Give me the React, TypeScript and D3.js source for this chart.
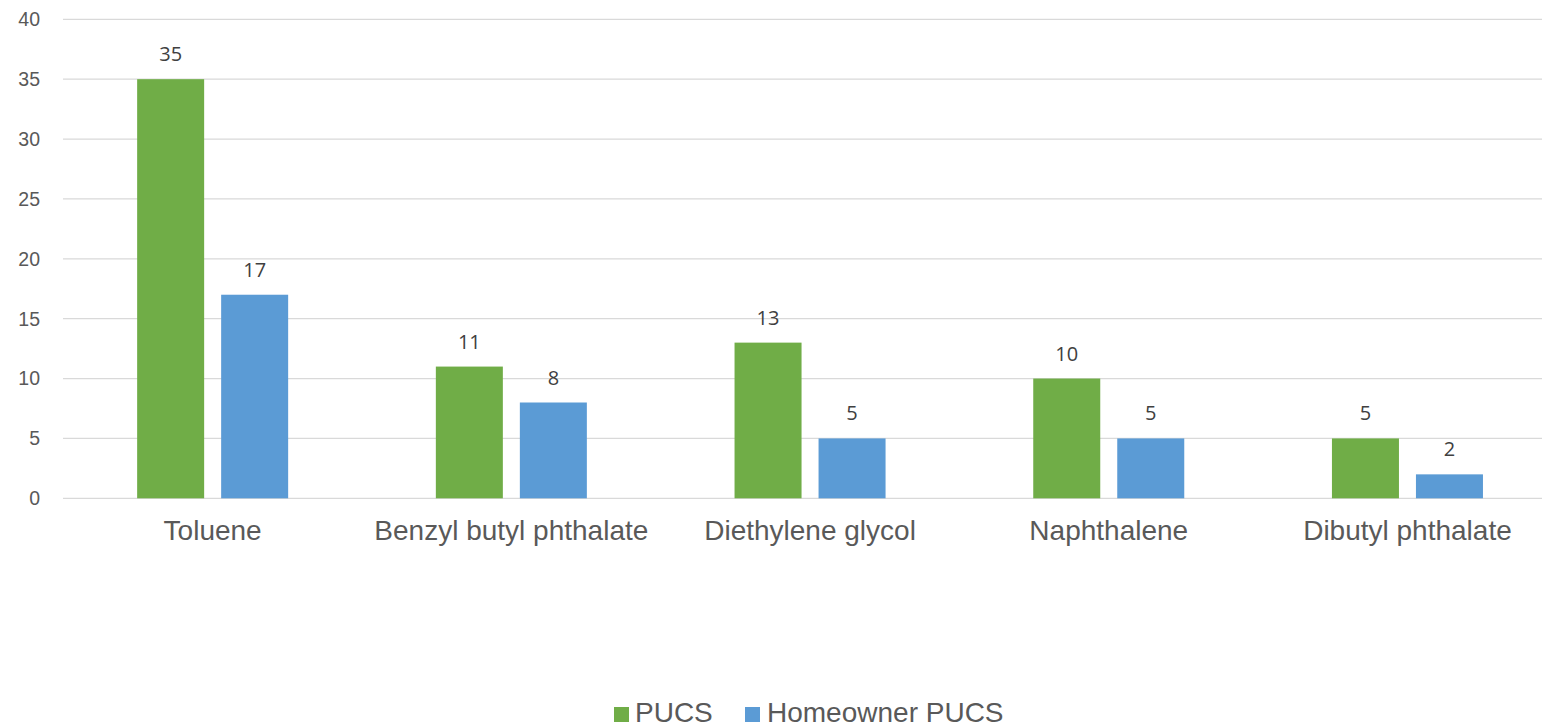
import * as d3 from "d3";

const categories = [
  "Toluene",
  "Benzyl butyl phthalate",
  "Diethylene glycol",
  "Naphthalene",
  "Dibutyl phthalate",
];
const seriesNames = ["PUCS", "Homeowner PUCS"];
const pucsValues = [35, 11, 13, 10, 5];
const homeownerValues = [17, 8, 5, 5, 2];
const yTicks = [0, 5, 10, 15, 20, 25, 30, 35, 40];

const WIDTH = 1542;
const HEIGHT = 727;
const COLORS = ["#70ad47", "#5b9bd5"];

export default function App() {
  const x0 = d3.scaleBand<string>().domain(categories).range([63.3, 1556.8]);
  const x1 = d3
    .scaleBand<string>()
    .domain(seriesNames)
    .range([0, x0.bandwidth()])
    .paddingInner(0.2024)
    .paddingOuter(0.879);
  const y = d3.scaleLinear().domain([0, 40]).range([498.3, 19.3]);

  const rows = categories.map((c, i) => ({
    category: c,
    values: [pucsValues[i], homeownerValues[i]],
  }));

  return (
    <div style={{ position: "absolute", left: 0, top: 0 }}>
      <svg width={WIDTH} height={HEIGHT} style={{ display: "block", background: "#fff" }}>
        <g className="grid">
          {yTicks.map((t) => (
            <line
              key={t}
              x1={63}
              x2={WIDTH}
              y1={y(t)}
              y2={y(t)}
              stroke="#d9d9d9"
              strokeWidth={1.3}
            />
          ))}
        </g>
        <g className="y-axis" fontFamily="'Liberation Sans', Arial, sans-serif" fontSize={19.5} fill="#595959">
          {yTicks.map((t) => (
            <text key={t} x={40} y={y(t)} dy="0.35em" textAnchor="end">
              {t}
            </text>
          ))}
        </g>
        <g className="bars">
          {rows.map((r) => (
            <g key={r.category} transform={`translate(${x0(r.category)},0)`}>
              {r.values.map((v, j) => (
                <g key={seriesNames[j]}>
                  <rect
                    x={x1(seriesNames[j])}
                    width={x1.bandwidth()}
                    y={y(v)}
                    height={y(0) - y(v)}
                    fill={COLORS[j]}
                  />
                  <text
                    x={(x1(seriesNames[j]) ?? 0) + x1.bandwidth() / 2}
                    y={y(v) - 18}
                    textAnchor="middle"
                    fontFamily="'Open Sans', 'Noto Sans', sans-serif"
                    fontSize={20}
                    fill="#404040"
                  >
                    {v}
                  </text>
                </g>
              ))}
            </g>
          ))}
        </g>
        <g className="x-axis" fontFamily="'Liberation Sans', Arial, sans-serif" fontSize={28} fill="#595959">
          {categories.map((c) => (
            <text key={c} x={(x0(c) ?? 0) + x0.bandwidth() / 2} y={540} textAnchor="middle">
              {c}
            </text>
          ))}
        </g>
        <g className="legend" fontFamily="'Liberation Sans', Arial, sans-serif" fontSize={28} fill="#595959">
          <rect x={614} y={707} width={15} height={15} fill={COLORS[0]} />
          <text x={635} y={722}>{seriesNames[0]}</text>
          <rect x={745} y={707} width={15} height={15} fill={COLORS[1]} />
          <text x={767} y={722}>{seriesNames[1]}</text>
        </g>
      </svg>
    </div>
  );
}
